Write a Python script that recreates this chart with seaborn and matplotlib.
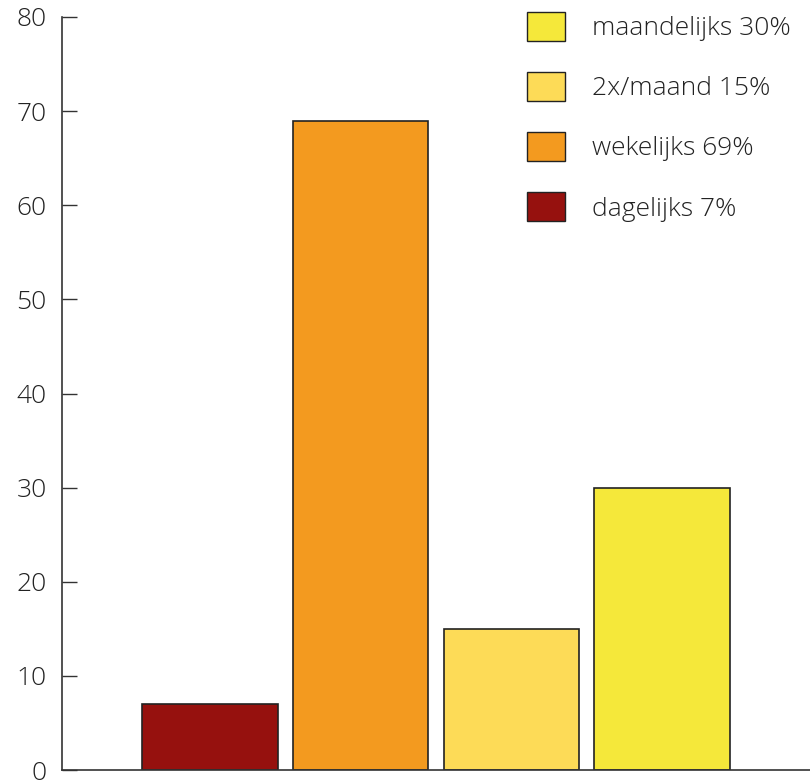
import matplotlib
matplotlib.use("Agg")
import matplotlib.pyplot as plt
import seaborn as sns
import pandas as pd
from matplotlib.patches import Patch

# data
categories = ["dagelijks", "wekelijks", "2x/maand", "maandelijks"]
values = [7, 69, 15, 30]
colors = ["#96110E", "#F39A1F", "#FDDB57", "#F5E83A"]
legend_labels = ["dagelijks 7%", "wekelijks 69%", "2x/maand 15%", "maandelijks 30%"]

sns.set_style("white")
plt.rcParams["font.family"] = ["Open Sans", "DejaVu Sans"]
plt.rcParams["font.weight"] = "light"

df = pd.DataFrame({"cat": categories, "val": values})

fig = plt.figure(figsize=(8.1, 7.83), dpi=100)
ax = fig.add_axes([62 / 810, 13 / 783, 1 - 62 / 810, (770 - 17) / 783])

sns.barplot(data=df, x="cat", y="val", hue="cat", order=categories,
            palette=dict(zip(categories, colors)), width=0.9, saturation=1,
            edgecolor="#222222", linewidth=1.2, legend=False, ax=ax)

ax.set_xlim(-0.98, 3.98)
ax.set_ylim(0, 80)
ax.set_yticks(range(0, 81, 10))
ax.set_xticks([])
ax.set_xlabel("")
ax.set_ylabel("")
for s in ["top", "right"]:
    ax.spines[s].set_visible(False)
for s in ["left", "bottom"]:
    ax.spines[s].set_color("#333333")
    ax.spines[s].set_linewidth(1.2)
ax.tick_params(axis="y", direction="in", length=11, width=1, color="#333333",
               labelsize=19, pad=11, labelcolor="#222222")
ax.tick_params(axis="y", left=True)

# legend, top entry first
handles = [Patch(facecolor=c, edgecolor="#222222", linewidth=1) for c in colors][::-1]
fig.legend(handles, legend_labels[::-1], loc="upper left",
           bbox_to_anchor=(527 / 810, 1 - 12 / 783), frameon=False,
           fontsize=19, handlelength=1.44, handleheight=1.3,
           labelspacing=1.17, handletextpad=1.02, borderpad=0,
           borderaxespad=0, labelcolor="#222222")

fig.savefig("out.png", dpi=100)
